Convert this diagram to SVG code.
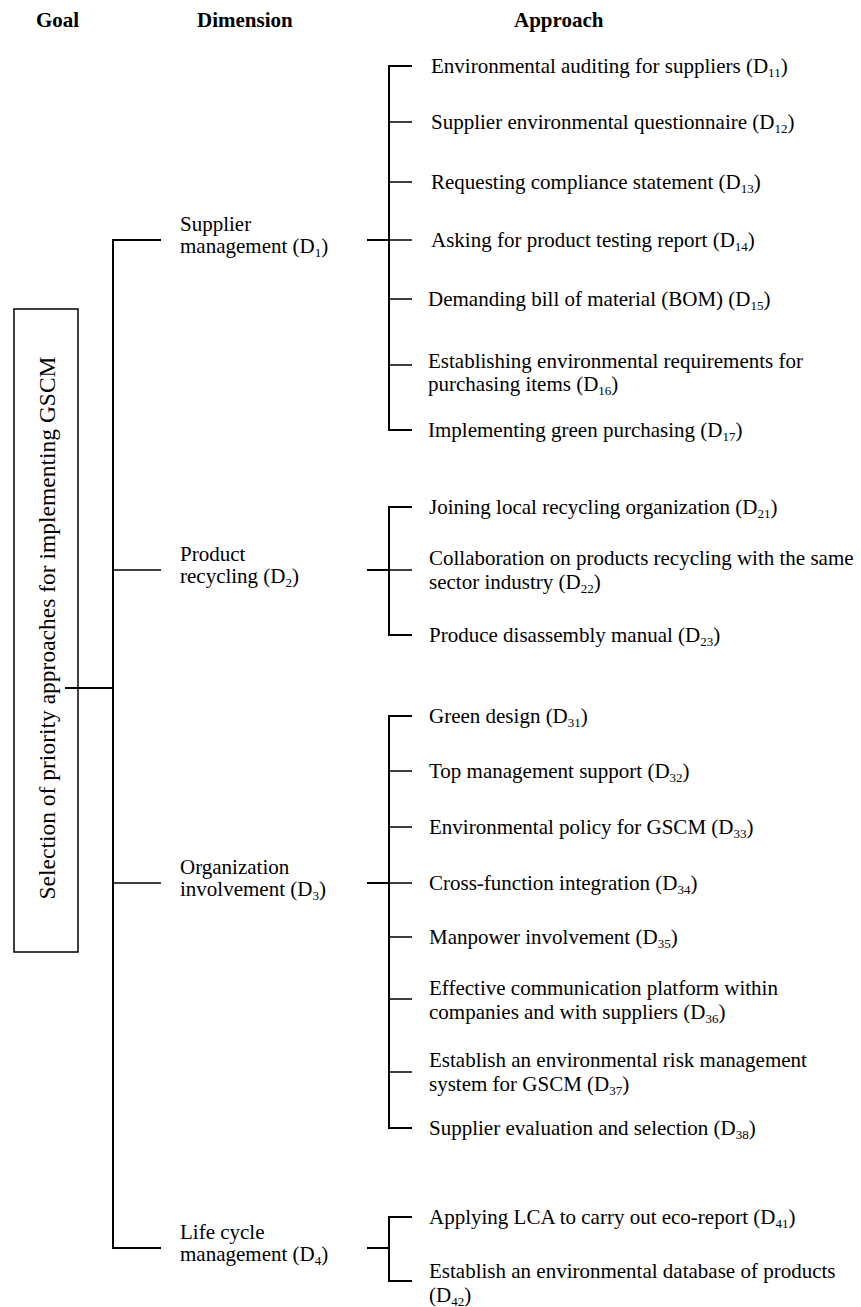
<svg xmlns="http://www.w3.org/2000/svg" width="861" height="1307" viewBox="0 0 861 1307">
<style>
text{font-family:"Liberation Serif","Times New Roman",serif;font-size:21px;fill:#000}
.h{font-weight:bold}
.s{font-size:13px}
.g{font-size:23.5px}
.ln{stroke:#000;fill:none;stroke-linecap:butt}
.t{stroke-width:2}
.k{stroke-width:1.5}
</style>
<rect width="861" height="1307" fill="#fff"/>
<g id="headers">
<text class="h" x="36" y="27">Goal</text>
<text class="h" x="197" y="27">Dimension</text>
<text class="h" x="514" y="27">Approach</text>
</g>
<g id="goal">
<rect x="14" y="309" width="64" height="643" fill="none" stroke="#000" stroke-width="1.5"/>
<text class="g" transform="translate(55,628) rotate(-90)" text-anchor="middle">Selection of priority approaches for implementing GSCM</text>
</g>
<g id="connectors">
<path class="ln t" d="M65 688H113"/>
<path class="ln t" d="M161 240H113V1248H161"/>
<path class="ln k" d="M113 570H161M113 883H161"/>
<path class="ln t" d="M367 240H389M367 570H389M367 883H389M367 1248H389"/>
<path class="ln t" d="M412 66H389V430H412"/>
<path class="ln k" d="M389 122H412M389 182H412M389 240H412M389 299H412M389 365H412"/>
<path class="ln t" d="M412 507H389V635H412"/>
<path class="ln k" d="M389 570H412"/>
<path class="ln t" d="M412 716H389V1128H412"/>
<path class="ln k" d="M389 771H412M389 827H412M389 883H412M389 937H412M389 999H412M389 1072H412"/>
<path class="ln t" d="M412 1217H389V1281H412"/>
</g>
<g id="dim-D1"><text x="180" y="231">Supplier</text><text x="180" y="253">management (D<tspan class="s" dy="4">1</tspan><tspan dy="-4">)</tspan></text></g>
<g id="dim-D2"><text x="180" y="561">Product</text><text x="180" y="583">recycling (D<tspan class="s" dy="4">2</tspan><tspan dy="-4">)</tspan></text></g>
<g id="dim-D3"><text x="180" y="874">Organization</text><text x="180" y="896">involvement (D<tspan class="s" dy="4">3</tspan><tspan dy="-4">)</tspan></text></g>
<g id="dim-D4"><text x="180" y="1239">Life cycle</text><text x="180" y="1261">management (D<tspan class="s" dy="4">4</tspan><tspan dy="-4">)</tspan></text></g>
<g id="D11"><text x="431" y="73">Environmental auditing for suppliers (D<tspan class="s" dy="4">11</tspan><tspan dy="-4">)</tspan></text></g>
<g id="D12"><text x="431" y="129">Supplier environmental questionnaire (D<tspan class="s" dy="4">12</tspan><tspan dy="-4">)</tspan></text></g>
<g id="D13"><text x="431" y="189">Requesting compliance statement (D<tspan class="s" dy="4">13</tspan><tspan dy="-4">)</tspan></text></g>
<g id="D14"><text x="431" y="247">Asking for product testing report (D<tspan class="s" dy="4">14</tspan><tspan dy="-4">)</tspan></text></g>
<g id="D15"><text x="428" y="306">Demanding bill of material (BOM) (D<tspan class="s" dy="4">15</tspan><tspan dy="-4">)</tspan></text></g>
<g id="D16"><text x="428" y="368">Establishing environmental requirements for</text><text x="428" y="391">purchasing items (D<tspan class="s" dy="4">16</tspan><tspan dy="-4">)</tspan></text></g>
<g id="D17"><text x="428" y="437">Implementing green purchasing (D<tspan class="s" dy="4">17</tspan><tspan dy="-4">)</tspan></text></g>
<g id="D21"><text x="429" y="514">Joining local recycling organization (D<tspan class="s" dy="4">21</tspan><tspan dy="-4">)</tspan></text></g>
<g id="D22"><text x="429" y="565">Collaboration on products recycling with the same</text><text x="429" y="589">sector industry (D<tspan class="s" dy="4">22</tspan><tspan dy="-4">)</tspan></text></g>
<g id="D23"><text x="429" y="642">Produce disassembly manual (D<tspan class="s" dy="4">23</tspan><tspan dy="-4">)</tspan></text></g>
<g id="D31"><text x="429" y="723">Green design (D<tspan class="s" dy="4">31</tspan><tspan dy="-4">)</tspan></text></g>
<g id="D32"><text x="429" y="778">Top management support (D<tspan class="s" dy="4">32</tspan><tspan dy="-4">)</tspan></text></g>
<g id="D33"><text x="429" y="834">Environmental policy for GSCM (D<tspan class="s" dy="4">33</tspan><tspan dy="-4">)</tspan></text></g>
<g id="D34"><text x="429" y="890">Cross-function integration (D<tspan class="s" dy="4">34</tspan><tspan dy="-4">)</tspan></text></g>
<g id="D35"><text x="429" y="944">Manpower involvement (D<tspan class="s" dy="4">35</tspan><tspan dy="-4">)</tspan></text></g>
<g id="D36"><text x="429" y="995">Effective communication platform within</text><text x="429" y="1019">companies and with suppliers (D<tspan class="s" dy="4">36</tspan><tspan dy="-4">)</tspan></text></g>
<g id="D37"><text x="429" y="1067">Establish an environmental risk management</text><text x="429" y="1091">system for GSCM (D<tspan class="s" dy="4">37</tspan><tspan dy="-4">)</tspan></text></g>
<g id="D38"><text x="429" y="1135">Supplier evaluation and selection (D<tspan class="s" dy="4">38</tspan><tspan dy="-4">)</tspan></text></g>
<g id="D41"><text x="429" y="1224">Applying LCA to carry out eco-report (D<tspan class="s" dy="4">41</tspan><tspan dy="-4">)</tspan></text></g>
<g id="D42"><text x="429" y="1278">Establish an environmental database of products</text><text x="429" y="1302">(D<tspan class="s" dy="4">42</tspan><tspan dy="-4">)</tspan></text></g>
</svg>
